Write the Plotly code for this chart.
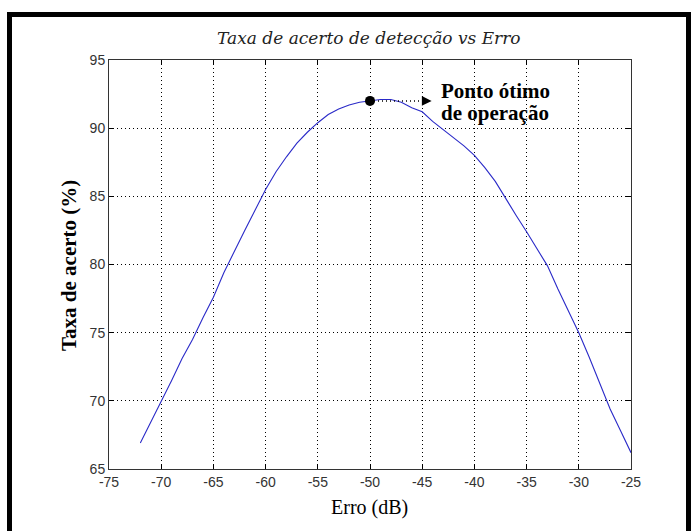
import plotly.graph_objects as go

erro_db = [-72, -71, -70, -69, -68, -67, -66, -65, -64, -63, -62, -61, -60, -59, -58,
           -57, -56, -55, -54, -53, -52, -51, -50, -49, -48, -47, -46, -45, -44, -43,
           -42, -41, -40, -39, -38, -37, -36, -35, -34, -33, -32, -31, -30, -29, -28,
           -27, -26, -25]
taxa_acerto = [66.9, 68.4, 70.0, 71.5, 73.1, 74.5, 76.1, 77.6, 79.4, 81.0, 82.5, 84.0, 85.5,
               86.8, 87.9, 88.9, 89.7, 90.4, 91.0, 91.4, 91.7, 91.9, 92.0, 92.1, 92.1, 91.9,
               91.5, 91.2, 90.5, 89.9, 89.3, 88.7, 88.0, 87.1, 86.1, 84.8, 83.6, 82.4, 81.2,
               79.9, 78.2, 76.6, 75.0, 73.2, 71.3, 69.4, 67.8, 66.2]
otimo_x = [-50]
otimo_y = [92.0]
seta_x = [-50, -44.6]
x_ticks = [-75, -70, -65, -60, -55, -50, -45, -40, -35, -30, -25]
y_ticks = [65, 70, 75, 80, 85, 90, 95]

W, H = 692, 531
L, R, T, B = 109, 631, 60, 469

def px(x):
    return (x - L) / (R - L)

def py(y):
    return (B - y) / (B - T)

fig = go.Figure()
fig.add_trace(go.Scatter(x=erro_db, y=taxa_acerto, mode="lines",
                         line=dict(color="#2a2ac8", width=1.1), showlegend=False))
fig.add_trace(go.Scatter(x=seta_x, y=[otimo_y[0]] * 2, mode="lines",
                         line=dict(color="black", width=1.5, dash="1px,3px"), showlegend=False))
fig.add_trace(go.Scatter(x=otimo_x, y=otimo_y, mode="markers",
                         marker=dict(color="black", size=10), showlegend=False))

fig.add_annotation(x=-44.1, y=otimo_y[0], ax=-44.9, ay=otimo_y[0], xref="x", yref="y",
                   axref="x", ayref="y", text="", showarrow=True, arrowhead=2,
                   arrowsize=1.3, arrowwidth=1.5, arrowcolor="black")
fig.add_annotation(x=px(439), y=py(91), xref="paper", yref="paper", xanchor="left",
                   yanchor="middle", showarrow=False, align="left",
                   text="<b>Ponto ótimo</b>",
                   font=dict(family="Liberation Serif", size=21, color="black"))
fig.add_annotation(x=px(439), y=py(113), xref="paper", yref="paper", xanchor="left",
                   yanchor="middle", showarrow=False, align="left",
                   text="<b>de operação</b>",
                   font=dict(family="Liberation Serif", size=21, color="black"))

# titles
fig.add_annotation(x=px(369), y=py(38), xref="paper", yref="paper", showarrow=False,
                   xanchor="center", yanchor="middle",
                   text="<i>Taxa de acerto de detecção vs Erro</i>",
                   font=dict(family="DejaVu Serif", size=17, color="#222"))
fig.add_annotation(x=px(369), y=py(507), xref="paper", yref="paper", showarrow=False,
                   xanchor="center", yanchor="middle",
                   text="Erro (dB)", font=dict(family="Liberation Serif", size=20, color="black"))
fig.add_annotation(x=px(69), y=py(266), xref="paper", yref="paper", showarrow=False,
                   xanchor="center", yanchor="middle",
                   textangle=-90, text="<b>Taxa de acerto (%)</b>",
                   font=dict(family="Liberation Serif", size=21, color="black"))

# outer frame
fig.add_shape(type="rect", xref="paper", yref="paper",
              x0=px(9.5), x1=px(688.5), y0=py(545), y1=py(14.5),
              line=dict(color="black", width=5), fillcolor="rgba(0,0,0,0)", layer="above")

axis_common = dict(showline=True, linecolor="#333", linewidth=1, mirror="ticks",
                   ticks="inside", ticklen=5, tickcolor="black", tickwidth=1,
                   showgrid=True, gridcolor="black", gridwidth=1, griddash="1px,3px",
                   zeroline=False, tickfont=dict(family="Liberation Sans", size=14, color="#333"))

fig.update_xaxes(range=[-75, -25], tickvals=x_ticks, ticktext=[str(v) for v in x_ticks],
                 **axis_common)
fig.update_yaxes(range=[65, 95], tickvals=y_ticks, ticktext=[str(v) for v in y_ticks],
                 **axis_common)

fig.update_layout(width=W, height=H, margin=dict(l=L, r=W - R, t=T, b=H - B),
                  plot_bgcolor="white", paper_bgcolor="white")

fig.write_html("out.html")
